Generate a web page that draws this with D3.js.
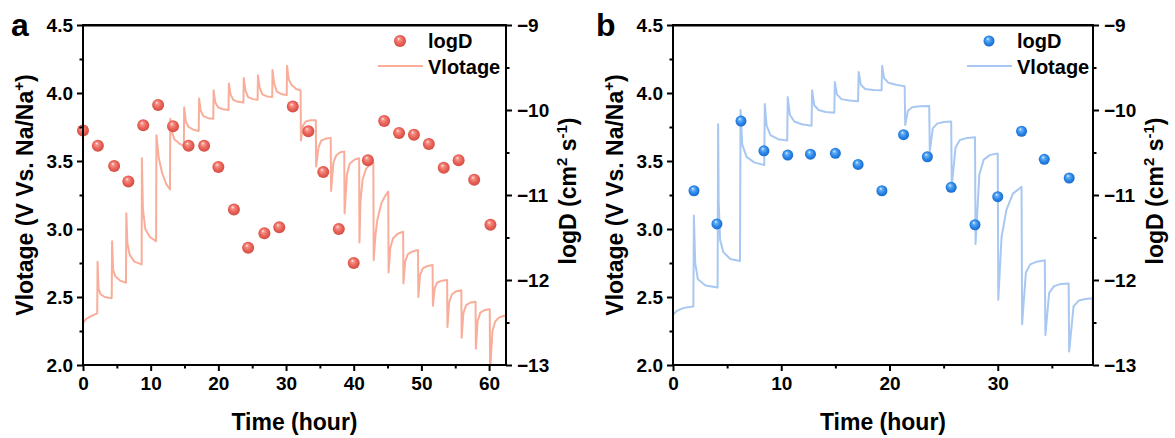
<!DOCTYPE html>
<html>
<head>
<meta charset="utf-8">
<script src="https://cdn.jsdelivr.net/npm/d3@7"></script>
<style>
html,body{margin:0;padding:0;background:#fff;}
svg{display:block;font-family:"Liberation Sans",Arial,sans-serif;font-weight:bold;}
</style>
</head>
<body>
<svg id="chart" width="1175" height="438"></svg>
<script>
// ---------------- DATA ----------------
// Panel a: logD points
const timeDotsA = [0, 2.2, 4.6, 6.7, 8.9, 11.1, 13.3, 15.6, 17.9, 20.0, 22.3, 24.4, 26.8, 29.0, 31.0, 33.3, 35.5, 37.8, 40.0, 42.1, 44.5, 46.7, 48.9, 51.1, 53.3, 55.5, 57.8, 60.2];
const logDA = [-10.24, -10.42, -10.66, -10.84, -10.18, -9.94, -10.19, -10.42, -10.42, -10.67, -11.17, -11.62, -11.45, -11.38, -9.96, -10.25, -10.73, -11.40, -11.80, -10.59, -10.13, -10.27, -10.29, -10.40, -10.68, -10.59, -10.82, -11.35];
// Panel a: voltage curve [time(h), V]
const voltageA = [
 [0,2.31],[0.5,2.34],[1.2,2.36],[2.1,2.38],
 [2.15,2.76],[2.3,2.56],[2.6,2.52],[3.2,2.50],[4.24,2.49],
 [4.3,2.91],[4.45,2.70],[4.8,2.65],[5.5,2.62],[6.35,2.605],
 [6.4,3.115],[6.55,2.90],[6.9,2.81],[7.6,2.76],[8.67,2.74],
 [8.7,3.52],[8.85,3.15],[9.2,3.00],[9.9,2.94],[10.8,2.91],
 [10.85,3.69],[11.2,3.52],[11.7,3.41],[12.3,3.33],[12.85,3.29],
 [12.9,3.81],[13.1,3.72],[13.5,3.66],[14.2,3.63],[14.9,3.61],
 [14.95,3.895],[15.2,3.79],[15.6,3.75],[16.3,3.73],[17.1,3.72],
 [17.15,3.96],[17.4,3.87],[17.8,3.83],[18.5,3.815],[19.25,3.81],
 [19.3,4.02],[19.55,3.93],[19.95,3.895],[20.7,3.88],[21.5,3.875],
 [21.55,4.07],[21.8,3.99],[22.2,3.95],[22.9,3.935],[23.7,3.93],
 [23.75,4.11],[24.0,4.02],[24.4,3.97],[25.1,3.955],[25.8,3.95],
 [25.85,4.13],[26.1,4.04],[26.5,3.99],[27.2,3.975],[27.96,3.97],
 [28.0,4.17],[28.25,4.07],[28.65,4.01],[29.4,3.99],[30.1,3.985],
 [30.15,4.20],[30.4,4.10],[30.8,4.06],[31.5,4.03],[32.15,4.02],
 [32.2,3.65],[32.5,3.76],[32.9,3.79],[33.6,3.80],[34.4,3.80],
 [34.45,3.46],[34.8,3.60],[35.2,3.65],[35.9,3.665],[36.6,3.67],
 [36.65,3.28],[37.0,3.49],[37.4,3.54],[38.0,3.565],[38.6,3.57],
 [38.65,3.115],[39.0,3.40],[39.4,3.48],[40.1,3.51],[40.8,3.52],
 [40.85,2.90],[41.0,3.20],[41.3,3.36],[41.8,3.44],[42.3,3.47],[42.9,3.49],
 [42.95,2.77],[43.2,2.95],[43.5,3.07],[44.1,3.19],[44.6,3.24],[45.1,3.275],
 [45.15,2.68],[45.4,2.86],[45.8,2.93],[46.5,2.965],[47.3,2.98],
 [47.35,2.60],[47.6,2.76],[48.0,2.815],[48.7,2.835],[49.5,2.845],
 [49.55,2.50],[49.8,2.66],[50.2,2.71],[50.9,2.728],[51.65,2.735],
 [51.7,2.435],[51.95,2.56],[52.3,2.605],[53.0,2.62],[53.8,2.625],
 [53.85,2.28],[54.1,2.46],[54.5,2.52],[55.2,2.543],[55.9,2.55],
 [55.95,2.20],[56.2,2.38],[56.6,2.44],[57.3,2.46],[58.0,2.465],
 [58.05,2.12],[58.3,2.32],[58.7,2.385],[59.4,2.405],[60.1,2.41],
 [60.15,1.95],[60.5,2.25],[60.9,2.32],[61.5,2.35],[62.1,2.36],[62.5,2.365]
];

// Panel b: logD points
const timeDotsB = [1.94, 4.06, 6.28, 8.4, 10.6, 12.7, 15.0, 17.1, 19.3, 21.3, 23.5, 25.7, 27.9, 30.0, 32.2, 34.3, 36.6];
const logDB = [-10.95, -11.34, -10.13, -10.48, -10.53, -10.52, -10.51, -10.64, -10.95, -10.29, -10.55, -10.91, -11.35, -11.02, -10.25, -10.58, -10.80];
// Panel b: voltage curve [time(h), V]
const voltageB = [
 [0,2.37],[0.4,2.40],[1.0,2.42],[1.88,2.43],
 [1.93,3.10],[2.05,2.75],[2.3,2.63],[3.0,2.585],[4.12,2.57],
 [4.17,3.77],[4.22,3.20],[4.35,2.92],[4.65,2.83],[5.3,2.78],[6.19,2.765],
 [6.24,3.875],[6.4,3.62],[6.8,3.53],[7.5,3.49],[8.43,3.47],
 [8.48,3.92],[8.65,3.76],[9.0,3.69],[9.7,3.66],[10.55,3.65],
 [10.6,3.97],[10.8,3.84],[11.2,3.79],[11.9,3.77],[12.8,3.76],
 [12.85,4.02],[13.05,3.91],[13.45,3.875],[14.1,3.86],[14.9,3.855],
 [14.95,4.08],[15.15,3.99],[15.55,3.955],[16.3,3.945],[17.1,3.94],
 [17.15,4.155],[17.35,4.06],[17.75,4.03],[18.5,4.022],[19.27,4.02],
 [19.32,4.20],[19.5,4.11],[19.9,4.075],[20.6,4.06],[21.4,4.05],
 [21.45,3.765],[21.7,3.87],[22.1,3.895],[22.8,3.902],[23.67,3.905],
 [23.72,3.57],[24.0,3.74],[24.4,3.775],[25.0,3.787],[25.7,3.79],
 [25.75,3.31],[26.1,3.60],[26.5,3.655],[27.2,3.67],[27.9,3.675],
 [27.95,2.89],[28.3,3.40],[28.7,3.51],[29.3,3.545],[30.0,3.555],
 [30.05,2.48],[30.35,2.94],[30.8,3.14],[31.4,3.26],[32.2,3.31],
 [32.25,2.30],[32.6,2.68],[33.0,2.74],[33.6,2.76],[34.35,2.77],
 [34.4,2.22],[34.75,2.53],[35.2,2.58],[35.8,2.595],[36.55,2.60],
 [36.6,2.10],[37.0,2.43],[37.5,2.475],[38.1,2.485],[38.75,2.49],
 [38.8,1.95]
];

// Axis tick values / labels
const voltTicks = [2.0, 2.5, 3.0, 3.5, 4.0, 4.5];
const voltMinor = [2.25, 2.75, 3.25, 3.75, 4.25];
const logTicks = [-9, -10, -11, -12, -13];
const logMinor = [-9.5, -10.5, -11.5, -12.5];
const timeTicksA = [0, 10, 20, 30, 40, 50, 60];
const timeMinorA = [5, 15, 25, 35, 45, 55];
const timeTicksB = [0, 10, 20, 30];
const timeMinorB = [5, 15, 25, 35];

// ---------------- DRAW ----------------
const svg = d3.select("#chart");
const defs = svg.append("defs");

function sphereGrad(id, stops) {
  const g = defs.append("radialGradient").attr("id", id)
    .attr("cx", "0.5").attr("cy", "0.5").attr("r", "0.6")
    .attr("fx", "0.38").attr("fy", "0.3");
  stops.forEach(s => g.append("stop").attr("offset", s[0]).attr("stop-color", s[1]));
}
sphereGrad("gradRed", [[0, "#fff4f2"], [0.2, "#f6948a"], [0.55, "#ea6359"], [1, "#c8443b"]]);
sphereGrad("gradBlue", [[0, "#eef7ff"], [0.2, "#6ab3f7"], [0.55, "#2b88e8"], [1, "#145fc4"]]);

function panel(cfg) {
  const {x0, x1, y0, y1} = cfg;
  const x = d3.scaleLinear().domain(cfg.tDomain).range([x0, x1]);
  const yV = d3.scaleLinear().domain([2.0, 4.5]).range([y1, y0]);
  const yL = d3.scaleLinear().domain([-13, -9]).range([y1, y0]);
  const g = svg.append("g");

  const clipId = "clip" + cfg.id;
  defs.append("clipPath").attr("id", clipId).append("rect")
    .attr("x", x0).attr("y", y0).attr("width", x1 - x0).attr("height", y1 - y0);

  // voltage line
  g.append("path").datum(cfg.volt)
    .attr("clip-path", `url(#${clipId})`)
    .attr("fill", "none").attr("stroke", cfg.lineColor).attr("stroke-width", 2)
    .attr("stroke-linejoin", "round")
    .attr("d", d3.line().x(d => x(d[0])).y(d => yV(d[1])));

  // dots
  g.selectAll("circle.dot").data(cfg.tDots.map((t, i) => [t, cfg.logD[i]]))
    .enter().append("circle").attr("class", "dot")
    .attr("cx", d => x(d[0])).attr("cy", d => yL(d[1]))
    .attr("r", cfg.r).attr("fill", `url(#${cfg.grad})`);

  const tickFont = 19;
  // left axis
  const axL = g.append("g").attr("transform", `translate(${x0},0)`)
    .call(d3.axisLeft(yV).tickValues(voltTicks).tickFormat(d3.format(".1f")).tickSize(6).tickPadding(4));
  g.append("g").attr("transform", `translate(${x0},0)`)
    .call(d3.axisLeft(yV).tickValues(voltMinor).tickFormat("").tickSize(3.5))
    .select(".domain").remove();
  // right axis
  const axR = g.append("g").attr("transform", `translate(${x1},0)`)
    .call(d3.axisRight(yL).tickValues(logTicks).tickFormat(d => "\u2212" + Math.abs(d)).tickSize(6).tickPadding(5));
  g.append("g").attr("transform", `translate(${x1},0)`)
    .call(d3.axisRight(yL).tickValues(logMinor).tickFormat("").tickSize(3.5))
    .select(".domain").remove();
  // bottom axis
  const axB = g.append("g").attr("transform", `translate(0,${y1})`)
    .call(d3.axisBottom(x).tickValues(cfg.tTicks).tickFormat(d3.format("d")).tickSize(6).tickPadding(6));
  g.append("g").attr("transform", `translate(0,${y1})`)
    .call(d3.axisBottom(x).tickValues(cfg.tMinor).tickFormat("").tickSize(3.5))
    .select(".domain").remove();
  // top axis line
  g.append("g").attr("transform", `translate(0,${y0})`)
    .call(d3.axisTop(x).tickValues([]).tickSizeOuter(0));

  g.selectAll(".domain").attr("stroke", "#000").attr("stroke-width", 2);
  g.selectAll(".tick line").attr("stroke", "#000").attr("stroke-width", 2);
  g.selectAll(".tick text").attr("fill", "#000").attr("font-size", tickFont)
    .attr("font-family", "Liberation Sans, Arial, sans-serif").attr("font-weight", "bold");
  [axL, axR, axB].forEach(a => a.select(".domain").attr("d", null));
  // draw domains explicitly so corners meet cleanly
  g.append("rect").attr("x", x0).attr("y", y0).attr("width", x1 - x0).attr("height", y1 - y0)
    .attr("fill", "none").attr("stroke", "#000").attr("stroke-width", 2);

  // axis titles
  g.append("text").attr("x", (x0 + x1) / 2).attr("y", 430).attr("text-anchor", "middle")
    .attr("font-size", 23).attr("fill", "#000").text("Time (hour)");
  const lt = g.append("text").attr("transform", `translate(${x0 - 50},${(y0 + y1) / 2}) rotate(-90)`)
    .attr("text-anchor", "middle").attr("font-size", 23).attr("fill", "#000");
  lt.append("tspan").text("Vlotage (V Vs. Na/Na");
  lt.append("tspan").attr("dy", -9).attr("font-size", 15).text("+");
  lt.append("tspan").attr("dy", 9).text(")");
  const rt = g.append("text").attr("transform", `translate(${x1 + 70},${(y0 + y1) / 2 - 4}) rotate(-90)`)
    .attr("text-anchor", "middle").attr("font-size", 23).attr("fill", "#000");
  rt.append("tspan").text("logD (cm");
  rt.append("tspan").attr("dy", -9).attr("font-size", 15).text("2");
  rt.append("tspan").attr("dy", 9).text(" s");
  rt.append("tspan").attr("dy", -9).attr("font-size", 15).text("-1");
  rt.append("tspan").attr("dy", 9).text(")");

  // panel letter
  g.append("text").attr("x", cfg.letterX).attr("y", 36).attr("font-size", 32)
    .attr("fill", "#000").text(cfg.letter);

  // legend
  const lx = cfg.legendX;
  g.append("circle").attr("cx", lx + 22).attr("cy", 41).attr("r", cfg.r).attr("fill", `url(#${cfg.grad})`);
  g.append("text").attr("x", lx + 50).attr("y", 48).attr("font-size", 20).attr("fill", "#000").text("logD");
  g.append("line").attr("x1", lx).attr("x2", lx + 45).attr("y1", 66).attr("y2", 66)
    .attr("stroke", cfg.lineColor).attr("stroke-width", 2);
  g.append("text").attr("x", lx + 50).attr("y", 74).attr("font-size", 20).attr("fill", "#000").text("Vlotage");
}

panel({id: "a", x0: 83, x1: 506, y0: 25, y1: 365, tDomain: [0, 62.5],
  volt: voltageA, tDots: timeDotsA, logD: logDA, tTicks: timeTicksA, tMinor: timeMinorA,
  lineColor: "#f8ae9a", grad: "gradRed", r: 6, letter: "a", letterX: 11, legendX: 378});
panel({id: "b", x0: 673, x1: 1093, y0: 25, y1: 365, tDomain: [0, 38.8],
  volt: voltageB, tDots: timeDotsB, logD: logDB, tTicks: timeTicksB, tMinor: timeMinorB,
  lineColor: "#a8c8f2", grad: "gradBlue", r: 5.5, letter: "b", letterX: 596, legendX: 967});
</script>
</body>
</html>
